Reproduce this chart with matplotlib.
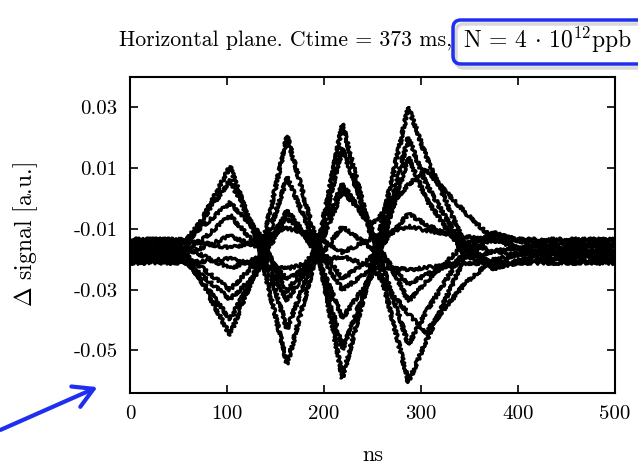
import matplotlib
matplotlib.use("Agg")
import matplotlib.pyplot as plt
from matplotlib.patches import FancyBboxPatch, FancyArrowPatch

plt.rcParams["font.family"] = ["cmr10"]
plt.rcParams["mathtext.fontset"] = "cm"
plt.rcParams["axes.unicode_minus"] = False

# sample times (ns) shared by all turns
time_ns = [0, 55, 75, 103, 132, 162, 191, 219, 250, 287, 305, 345, 375, 410, 500]

# delta signal of each recorded turn [a.u.]
turn_01 = [-0.0175, -0.0175, -0.0065, 0.0105, -0.0150, -0.0545, -0.0200, 0.0245, -0.0140, -0.0605, -0.0470, -0.0195, -0.0125, -0.0175, -0.0175]
turn_02 = [-0.0170, -0.0170, -0.0280, -0.0450, -0.0215, 0.0205, -0.0130, -0.0590, -0.0215, 0.0300, 0.0140, -0.0150, -0.0220, -0.0170, -0.0170]
turn_03 = [-0.0150, -0.0150, -0.0068, 0.0060, -0.0125, -0.0428, -0.0185, 0.0165, -0.0120, -0.0480, -0.0375, -0.0170, -0.0113, -0.0150, -0.0150]
turn_04 = [-0.0195, -0.0195, -0.0274, -0.0397, -0.0230, 0.0071, -0.0150, -0.0497, -0.0235, 0.0200, 0.0050, -0.0170, -0.0231, -0.0195, -0.0195]
turn_05 = [-0.0140, -0.0140, -0.0091, -0.0014, -0.0110, -0.0307, -0.0165, 0.0049, -0.0105, -0.0338, -0.0275, -0.0150, -0.0118, -0.0140, -0.0140]
turn_06 = [-0.0205, -0.0205, -0.0255, -0.0331, -0.0245, -0.0039, -0.0175, -0.0394, -0.0250, 0.0136, 0.0000, -0.0185, -0.0228, -0.0205, -0.0205]
turn_07 = [-0.0185, -0.0185, -0.0161, -0.0123, -0.0160, -0.0266, -0.0210, -0.0093, -0.0165, -0.0282, -0.0251, -0.0195, -0.0174, -0.0185, -0.0185]
turn_08 = [-0.0160, -0.0160, -0.0188, -0.0230, -0.0195, -0.0067, -0.0140, -0.0265, -0.0190, -0.0050, -0.0085, -0.0145, -0.0173, -0.0160, -0.0160]
turn_09 = [-0.0212, -0.0212, -0.0207, -0.0198, -0.0220, -0.0231, -0.0205, -0.0191, -0.0225, -0.0234, -0.0227, -0.0215, -0.0210, -0.0212, -0.0212]
turn_10 = [-0.0135, -0.0135, -0.0146, -0.0163, -0.0140, -0.0098, -0.0120, -0.0177, -0.0130, -0.0091, -0.0105, -0.0125, -0.0140, -0.0135, -0.0135]
turn_11 = [-0.0175, -0.0175, -0.0135, -0.0055, -0.0160, -0.0335, -0.0190, 0.0025, -0.0085, 0.0045, 0.0095, -0.0045, -0.0135, -0.0175, -0.0175]
turn_12 = [-0.0180, -0.0180, -0.0230, -0.0300, -0.0205, -0.0040, -0.0160, -0.0300, -0.0230, -0.0380, -0.0440, -0.0280, -0.0200, -0.0180, -0.0180]

turns = [turn_01, turn_02, turn_03, turn_04, turn_05, turn_06,
         turn_07, turn_08, turn_09, turn_10, turn_11, turn_12]

xticks = [0, 100, 200, 300, 400, 500]
yticks = [-0.05, -0.03, -0.01, 0.01, 0.03]
ytick_labels = ["-0.05", "-0.03", "-0.01", "0.01", "0.03"]

blue = "#1f2ff0"

fig = plt.figure(figsize=(6.38, 4.69), dpi=100)
ax = fig.add_axes([0.2038, 0.162, 0.7602, 0.674])

for sig in turns:
    line, = ax.plot(time_ns, sig, color="black", lw=2.3)
    line.set_sketch_params(scale=1.6, length=3.0, randomness=4)

ax.set_xlim(0, 500)
ax.set_ylim(-0.064, 0.040)
ax.set_xticks(xticks, [str(v) for v in xticks])
ax.set_yticks(yticks, ytick_labels)
ax.tick_params(direction="in", length=6, width=1.2, top=True, right=True,
               labelsize=15, pad=9)
for sp in ax.spines.values():
    sp.set_linewidth(1.5)

ax.set_xlabel("ns", fontsize=16)
ax.xaxis.set_label_coords(0.5, -0.165)
ax.set_ylabel(r"$\Delta$ signal [a.u.]", fontsize=17)
ax.yaxis.set_label_coords(-0.185, 0.5)

# title in two parts, the bunch intensity is boxed
fig.text(452 / 638, 1 - 40 / 469, "Horizontal plane. Ctime = 373 ms,",
         ha="right", va="center", fontsize=15.7)
fig.text(463 / 638, 1 - 40 / 469, r"N = 4 $\cdot$ 10$^{12}$ppb",
         ha="left", va="center", fontsize=17)

shadow = FancyBboxPatch((4.56, 4.01), 2.4, 0.44,
                        boxstyle="round,pad=0,rounding_size=0.08",
                        transform=fig.dpi_scale_trans, facecolor="none",
                        edgecolor="#d8d8d8", lw=2.5)
fig.add_artist(shadow)
box = FancyBboxPatch((4.53, 4.05), 2.4, 0.44,
                     boxstyle="round,pad=0,rounding_size=0.08",
                     transform=fig.dpi_scale_trans, facecolor="none",
                     edgecolor=blue, lw=2.5)
fig.add_artist(box)

arrow = FancyArrowPatch((-0.02, 0.38), (1.00, 0.83),
                        transform=fig.dpi_scale_trans,
                        arrowstyle="->,head_length=0.7,head_width=0.4",
                        mutation_scale=20, color=blue, lw=3)
fig.add_artist(arrow)

fig.savefig("out.png", dpi=100)
